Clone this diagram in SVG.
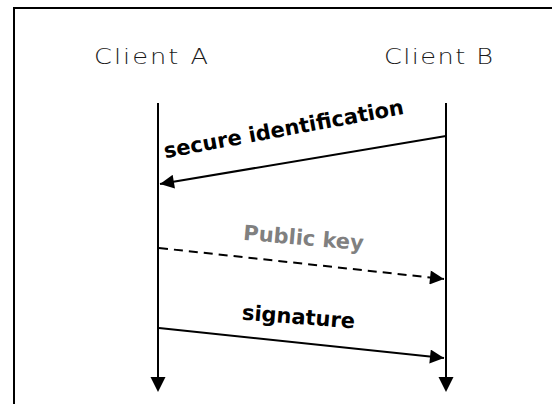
<svg xmlns="http://www.w3.org/2000/svg" width="552" height="404" viewBox="0 0 552 404">
  <style>
    .frame { fill: none; stroke: #000; stroke-width: 2; }
    .actor { font-family: "DejaVu Sans", "Open Sans", sans-serif; font-weight: 200; font-size: 20.5px; fill: #1a1a1a; }
    .life { stroke: #000; stroke-width: 2; fill: none; }
    .msg { stroke: #000; stroke-width: 2; fill: none; }
    .dashed { stroke-dasharray: 9 6; }
    .label { font-family: "DejaVu Sans", Verdana, sans-serif; font-weight: bold; font-size: 21px; text-anchor: middle; fill: #000; }
    .grey { fill: #808080; }
  </style>
  <defs>
    <marker id="head" viewBox="0 0 10 10" refX="10" refY="5" markerWidth="8" markerHeight="7" markerUnits="strokeWidth" orient="auto">
      <path d="M0,0 L10,5 L0,10 z" fill="#000"/>
    </marker>
  </defs>

  <rect width="552" height="404" fill="#fff"/>
  <path class="frame" d="M14,404 V8 H552"/>

  <g id="client-a">
    <!-- wide lettering: horizontally stretched light face -->
    <text class="actor" transform="translate(94,64) scale(1.25,1)" textLength="91.2" lengthAdjust="spacing">Client A</text>
    <line class="life" x1="158" y1="103" x2="158" y2="378"/>
    <path d="M150.5,377 L165.5,377 L158,392 z" fill="#000"/>
  </g>

  <g id="client-b">
    <text class="actor" transform="translate(384,64) scale(1.25,1)" textLength="87.2" lengthAdjust="spacing">Client B</text>
    <line class="life" x1="446" y1="103" x2="446" y2="378"/>
    <path d="M438.5,377 L453.5,377 L446,392 z" fill="#000"/>
  </g>

  <g id="connectors">
    <line class="msg" x1="446" y1="136" x2="160" y2="184" marker-end="url(#head)"/>
    <line class="msg dashed" x1="159" y1="248" x2="444" y2="279" marker-end="url(#head)"/>
    <line class="msg" x1="159" y1="328" x2="444" y2="358" marker-end="url(#head)"/>

    <text class="label" transform="translate(285,136) rotate(-10.5)">secure identification</text>
    <text class="label grey" transform="translate(303,245) rotate(5)">Public key</text>
    <text class="label" transform="translate(298,324) rotate(4.5)">signature</text>
  </g>
</svg>
